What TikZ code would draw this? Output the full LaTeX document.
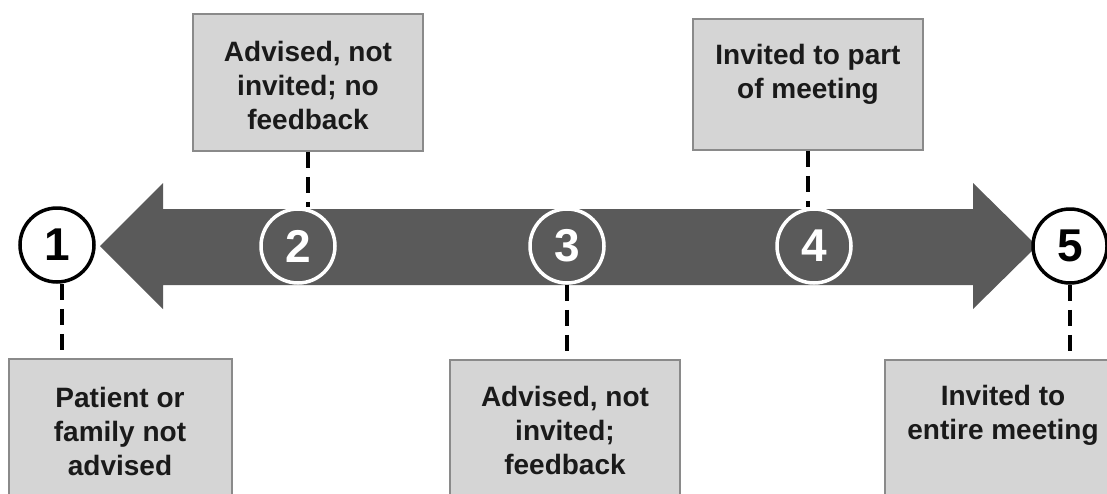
\documentclass[tikz,border=0pt]{standalone}
\usepackage{fontspec}
\setmainfont{Liberation Sans}
\definecolor{arrowgray}{HTML}{5A5A5A}
\definecolor{boxfill}{HTML}{D5D5D5}
\definecolor{boxedge}{HTML}{8A8A8A}
\definecolor{txt}{HTML}{1A1A1A}
\begin{document}
\begin{tikzpicture}[x=1pt,y=-1pt,
  box/.style={rectangle, draw=boxedge, fill=boxfill, line width=1.8pt, inner sep=0pt},
  lbl/.style={font=\bfseries\fontsize{28}{34}\selectfont, align=center, text=txt},
  darkc/.style={circle, fill=arrowgray, draw=white, line width=3.5pt, minimum size=74pt, inner sep=0pt, text=white, font=\bfseries\fontsize{46}{46}\selectfont},
  lightc/.style={circle, fill=white, draw=black, line width=3.5pt, minimum size=74pt, inner sep=0pt, text=black, font=\bfseries\fontsize{46}{46}\selectfont},
  dashline/.style={draw=black, line width=3.2pt, dash pattern=on 16pt off 9pt}]
\useasboundingbox (0,0) rectangle (1107,493);
\fill[white] (0,0) rectangle (1107,493);

% boxes
\node[box, minimum width=223pt, minimum height=141pt] (b1) at (120.5,429.5) {};
\node[box, minimum width=230pt, minimum height=137pt] (b2) at (308,82.5) {};
\node[box, minimum width=230pt, minimum height=140pt] (b3) at (565,430) {};
\node[box, minimum width=230pt, minimum height=131pt] (b4) at (808,84.5) {};
\node[box, minimum width=240pt, minimum height=140pt] (b5) at (1005,430) {};

\node[lbl] (t1) at (120,431) {Patient or\\family not\\advised};
\node[lbl] (t2) at (308,85) {Advised, not\\invited; no\\feedback};
\node[lbl] (t3) at (565,430) {Advised, not\\invited;\\feedback};
\node[lbl] (t4) at (808,74) {Invited to part\\of meeting};
\node[lbl] (t5) at (1003,415) {Invited to\\entire meeting};

% double arrow
\fill[arrowgray] (100,246) -- (163,183) -- (163,209) -- (973,209) -- (973,183)
  -- (1037,246) -- (973,309) -- (973,285) -- (163,285) -- (163,309) -- cycle;

% circles
\node[lightc] (c1) at (57,245) {1};
\node[darkc] (c2) at (298,246) {2};
\node[darkc] (c3) at (567,246) {3};
\node[darkc] (c4) at (814,246) {4};
\node[lightc] (c5) at (1070,246) {5};

% dashed connectors
\draw[dashline] ([xshift=5pt]c1.south) -- ([xshift=5pt]c1.south |- b1.north);
\draw[dashline] (b2.south) -- (b2.south |- c2.north);
\draw[dashline] (c3.south) -- (c3.south |- b3.north);
\draw[dashline] (b4.south) -- (b4.south |- c4.north);
\draw[dashline] (c5.south) -- (c5.south |- b5.north);
\end{tikzpicture}
\end{document}
